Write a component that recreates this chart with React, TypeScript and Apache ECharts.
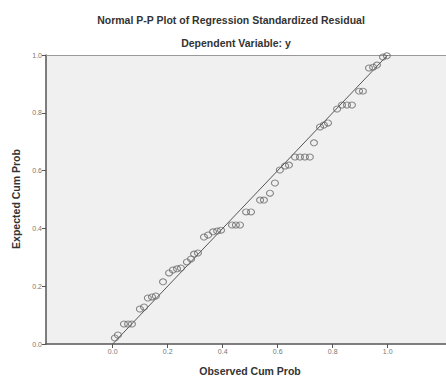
import React, { useEffect, useRef } from "react";
import * as echarts from "echarts";

const titleText = "Normal P-P Plot of Regression Standardized Residual";
const subtitleText = "Dependent Variable: y";
const xAxisTitle = "Observed Cum Prob";
const yAxisTitle = "Expected Cum Prob";
const tickValues = [0, 0.2, 0.4, 0.6, 0.8, 1.0];

const observed = [
  0.008, 0.019, 0.041, 0.056, 0.07, 0.099, 0.114, 0.128, 0.143, 0.157,
  0.183, 0.205, 0.219, 0.234, 0.248, 0.27, 0.285, 0.296, 0.31, 0.332,
  0.347, 0.365, 0.38, 0.394, 0.434, 0.448, 0.463, 0.485, 0.503, 0.536,
  0.55, 0.572, 0.59, 0.608, 0.627, 0.641, 0.663, 0.681, 0.699, 0.717,
  0.732, 0.754, 0.768, 0.783, 0.816, 0.834, 0.852, 0.87, 0.896, 0.91,
  0.932, 0.947, 0.961, 0.983, 0.997,
];
const expected = [
  0.021, 0.031, 0.069, 0.069, 0.069, 0.121, 0.128, 0.159, 0.163, 0.166,
  0.215, 0.246, 0.256, 0.26, 0.263, 0.284, 0.294, 0.311, 0.315, 0.37,
  0.377, 0.388, 0.391, 0.394, 0.412, 0.412, 0.412, 0.457, 0.457, 0.498,
  0.498, 0.522, 0.557, 0.602, 0.616, 0.619, 0.647, 0.647, 0.647, 0.647,
  0.696, 0.751, 0.758, 0.765, 0.813, 0.827, 0.827, 0.827, 0.875, 0.875,
  0.955, 0.958, 0.965, 0.993, 0.997,
];
const diagonal = [
  [0, 0],
  [1, 1],
];

export default function App() {
  const ref = useRef<HTMLDivElement>(null);
  useEffect(() => {
    if (!ref.current) return;
    const chart = echarts.init(ref.current, null, { renderer: "svg" });
    const font = "'Liberation Sans', Arial, sans-serif";
    chart.setOption({
      animation: false,
      backgroundColor: "#ffffff",
      grid: {
        left: 46,
        right: 0,
        top: 55,
        bottom: 35,
        show: true,
        backgroundColor: "#f0f0f0",
        borderColor: "rgba(0,0,0,0)",
        borderWidth: 0,
      },
      xAxis: [
        {
          type: "value",
          min: -0.2425,
          max: 1.2121,
          axisLine: { show: true, onZero: false, lineStyle: { color: "#555", width: 1.5 } },
          axisTick: {
            show: true,
            customValues: tickValues,
            length: 4,
            lineStyle: { color: "#555" },
          },
          axisLabel: {
            customValues: tickValues,
            formatter: (v: number) => v.toFixed(1),
            color: "#777",
            fontSize: 7,
            fontFamily: font,
            margin: 4,
          },
          splitLine: { show: false },
        },
        {
          type: "value",
          position: "top",
          min: -0.2425,
          max: 1.2121,
          axisLine: { show: true, onZero: false, lineStyle: { color: "#999", width: 1 } },
          axisTick: { show: false },
          axisLabel: { show: false },
          splitLine: { show: false },
        },
      ],
      yAxis: {
        type: "value",
        min: 0,
        max: 1,
        interval: 0.2,
        axisLine: { show: true, onZero: false, lineStyle: { color: "#555", width: 1.5 } },
        axisTick: { show: true, length: 4, lineStyle: { color: "#555" } },
        axisLabel: {
          formatter: (v: number) => v.toFixed(1),
          color: "#777",
          fontSize: 7,
          fontFamily: font,
          margin: 4,
        },
        splitLine: { show: false },
      },
      graphic: [
        {
          type: "text",
          x: 231,
          y: 20,
          style: {
            text: titleText,
            fill: "#333",
            font: `bold 10.5px ${font}`,
            textAlign: "center",
            textVerticalAlign: "middle",
          },
        },
        {
          type: "text",
          x: 236,
          y: 43,
          style: {
            text: subtitleText,
            fill: "#333",
            font: `bold 10.5px ${font}`,
            textAlign: "center",
            textVerticalAlign: "middle",
          },
        },
        {
          type: "text",
          x: 250,
          y: 371,
          style: {
            text: xAxisTitle,
            fill: "#333",
            font: `bold 10.5px ${font}`,
            textAlign: "center",
            textVerticalAlign: "middle",
          },
        },
        {
          type: "text",
          x: 16,
          y: 199,
          rotation: Math.PI / 2,
          style: {
            text: yAxisTitle,
            fill: "#333",
            font: `bold 10.5px ${font}`,
            textAlign: "center",
            textVerticalAlign: "middle",
          },
        },
      ],
      series: [
        {
          type: "line",
          data: diagonal,
          symbol: "none",
          lineStyle: { color: "#555", width: 1 },
          silent: true,
          z: 2,
        },
        {
          type: "scatter",
          data: observed.map((x, i) => [x, expected[i]]),
          symbol: "circle",
          symbolSize: [7, 6],
          itemStyle: { color: "rgba(0,0,0,0)", borderColor: "#666", borderWidth: 1 },
          z: 3,
        },
      ],
    });
    return () => chart.dispose();
  }, []);
  return (
    <div
      ref={ref}
      style={{ position: "fixed", left: 0, top: 0, width: 446, height: 379 }}
    />
  );
}
